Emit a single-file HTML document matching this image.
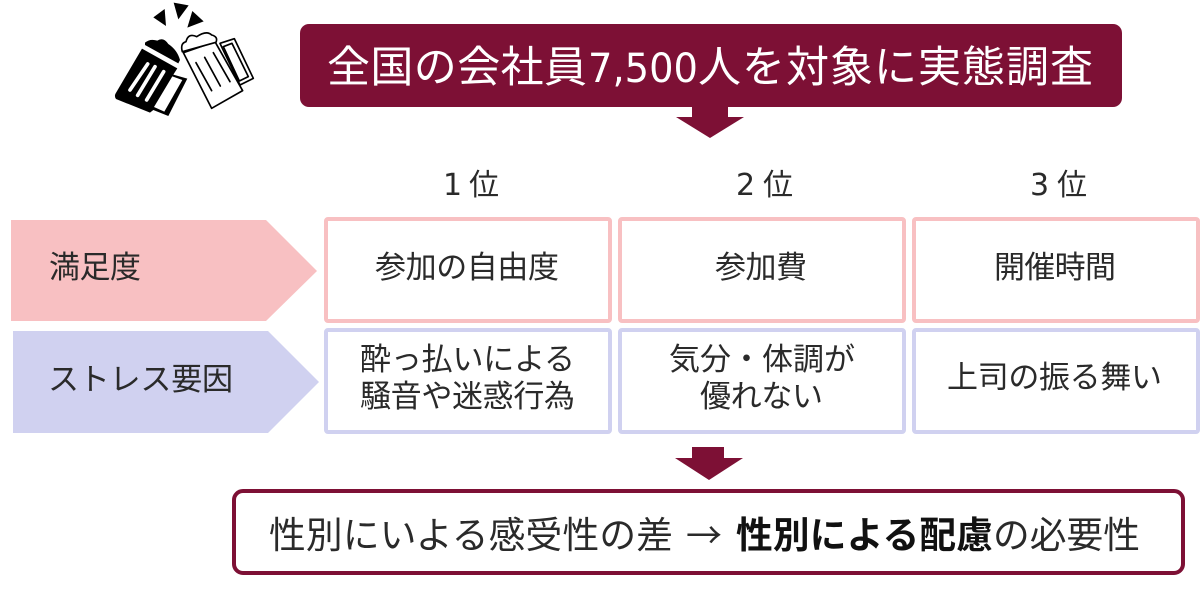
<!DOCTYPE html>
<html lang="ja"><head><meta charset="utf-8"><style>
html,body{margin:0;padding:0;background:#fff;width:1200px;height:598px;overflow:hidden}
svg{display:block}
text{font-family:"Noto Sans CJK JP","Liberation Sans",sans-serif;fill:#2a2a2a;font-weight:400}
text.d{font-family:"DejaVu Sans",sans-serif}
</style></head><body>
<svg width="1200" height="598" viewBox="0 0 1200 598" xmlns="http://www.w3.org/2000/svg">
<g transform="translate(100,0) scale(.3333)">
<polygon points="160,52 194,27 198,78" fill="#000"/><polygon points="221,8 266,16 235,58" fill="#000"/><polygon points="277,33 311,64 262,83" fill="#000"/>
<path d="M135 128 Q150 115 172 122 Q190 110 205 132 Q232 150 240 180 L235 190 L135 135Z" fill="#000"/>
<path d="M126 146 L232 205 L220 224 L262 236 L205 348 L160 330 L150 338 L48 297 Q42 288 47 280Z" fill="#000"/>
<line x1="128" y1="137" x2="238" y2="197" stroke="#fff" stroke-width="5"/>
<polygon points="217,229 247,240 193,335 162,321" fill="#fff"/>
<g stroke="#fff" stroke-width="11" stroke-linecap="round"><line x1="143" y1="192" x2="90" y2="270"/><line x1="165" y1="200" x2="113" y2="286"/><line x1="191" y1="215" x2="140" y2="300"/></g>
<g fill="#fff" stroke="#000" stroke-width="5" stroke-linejoin="round">
<path d="M360 130 L403 116 L460 235 L420 255 Z"/><path d="M370 140 L396 130 L445 230 L418 243Z"/>
<path d="M250 158 L345 125 L428 272 L335 325 Z"/>
<path d="M247 155 Q240 130 258 125 Q265 98 290 110 Q320 90 335 105 Q355 110 348 127 Z"/></g>
<g stroke="#000" stroke-width="5" stroke-linecap="round"><line x1="288" y1="188" x2="335" y2="272"/><line x1="314" y1="172" x2="361" y2="258"/><line x1="340" y1="158" x2="390" y2="245"/></g>
</g>
<rect x="300" y="24" width="822" height="83" rx="9" fill="#7d1035"/>
<text x="327" y="82" font-size="43" textLength="260" style="fill:#fff">全国の会社員</text>
<text class="d" x="588" y="82" font-size="40" textLength="110" lengthAdjust="spacingAndGlyphs" style="fill:#fff">7,500</text>
<text x="698" y="82" font-size="43" textLength="395" style="fill:#fff">人を対象に実態調査</text>
<polygon points="692,107 728,107 728,117 744,117 710,138 676,117 692,117" fill="#7d1035"/>
<text class="d" x="443" y="195" font-size="30">1</text><text x="469" y="195" font-size="30">位</text>
<text class="d" x="736" y="195" font-size="30">2</text><text x="763" y="195" font-size="30">位</text>
<text class="d" x="1030" y="195" font-size="30">3</text><text x="1057" y="195" font-size="30">位</text>
<polygon points="11,220 266,220 317,271 266,321 11,321" fill="#f8c0c2"/>
<polygon points="13,331 268,331 319,382 268,433 13,433" fill="#d0d1f0"/>
<text x="49" y="278" font-size="31" textLength="92">満足度</text>
<text x="48" y="390" font-size="31" textLength="185">ストレス要因</text>
<g fill="#fff" stroke="#f8c0c2" stroke-width="4">
<rect x="326" y="219" width="284" height="102" rx="2"/><rect x="620" y="219" width="284" height="102" rx="2"/><rect x="914" y="219" width="284" height="102" rx="2"/></g>
<g fill="#fff" stroke="#d0d1f0" stroke-width="4">
<rect x="326" y="330" width="284" height="102" rx="2"/><rect x="620" y="330" width="284" height="102" rx="2"/><rect x="914" y="330" width="284" height="102" rx="2"/></g>
<text x="375" y="278" font-size="31" textLength="184">参加の自由度</text>
<text x="715" y="278" font-size="31" textLength="92">参加費</text>
<text x="994" y="278" font-size="31" textLength="122">開催時間</text>
<text x="360" y="370" font-size="31" textLength="215">酔っ払いによる</text>
<text x="360" y="407" font-size="31" textLength="215">騒音や迷惑行為</text>
<text x="669" y="370" font-size="31" textLength="186">気分・体調が</text>
<text x="700" y="407" font-size="31" textLength="123">優れない</text>
<text x="947" y="388" font-size="31" textLength="215">上司の振る舞い</text>
<polygon points="692,447 724,447 724,458 743,458 709,480 675,458 692,458" fill="#7d1035"/>
<rect x="234" y="491" width="949" height="82" rx="9" fill="#fff" stroke="#7d1035" stroke-width="4"/>
<text x="269" y="548" font-size="36.7" textLength="404">性別にいよる感受性の差</text>
<text x="686" y="548" font-size="36" textLength="38">→</text>
<text x="736" y="548" font-size="36.7" textLength="257" style="font-weight:700;fill:#111">性別による配慮</text>
<text x="993" y="548" font-size="36.7" textLength="147">の必要性</text>
</svg>
</body></html>
